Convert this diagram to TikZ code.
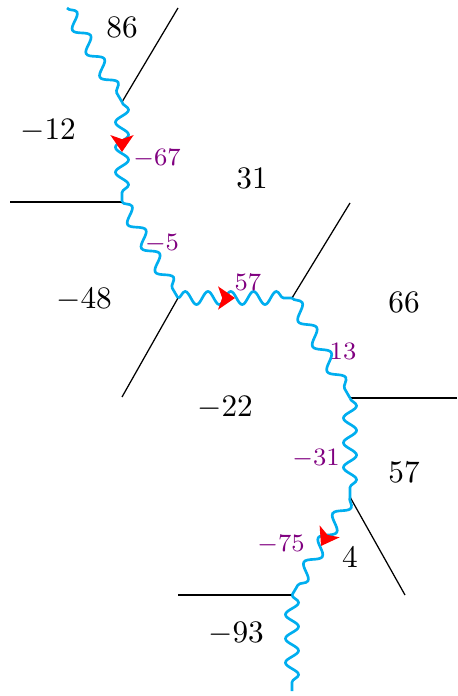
\documentclass[tikz,border=0pt]{standalone}
\usetikzlibrary{decorations.pathmorphing,decorations.markings,arrows.meta}
\definecolor{phot}{RGB}{0,174,239}
\definecolor{lab}{RGB}{128,0,128}
\begin{document}
\begin{tikzpicture}[x=0.32pt,y=-0.32pt,
  photon/.style={draw=phot, line width=0.85pt, decorate,
    decoration={snake, amplitude=2.1pt, segment length=#1}},
  wall/.style={draw=black, line width=0.4pt},
  midarrow/.style={decorate, decoration={markings,
    mark=at position 0.5 with {\arrow{Stealth[length=5.4pt,width=7.4pt,inset=1.3pt,red]}}}},
  region/.style={font=\normalsize, inner sep=0pt},
  charge/.style={text=lab, font=\footnotesize, inner sep=0pt}]
\useasboundingbox (0,0) rectangle (457,696);
% vertices of the photon line
\coordinate (S) at (67,8);
\coordinate (A) at (122,102);
\coordinate (B) at (122,202);
\coordinate (C) at (178,298);
\coordinate (D) at (292,298);
\coordinate (E) at (350,398);
\coordinate (F) at (350,497);
\coordinate (G) at (292,595);
\coordinate (T) at (292,691);
% free ends of the walls
\coordinate (a) at (178,8);
\coordinate (b) at (10,202);
\coordinate (c) at (122,397);
\coordinate (d) at (350,203);
\coordinate (e) at (457,398);
\coordinate (f) at (405,595);
\coordinate (g) at (178,595);
% walls
\draw[wall] (A) -- (a);
\draw[wall] (B) -- (b);
\draw[wall] (C) -- (c);
\draw[wall] (D) -- (d);
\draw[wall] (E) -- (e);
\draw[wall] (F) -- (f);
\draw[wall] (G) -- (g);
% photon line
\draw[photon=8.7pt] (S) -- (A);
\draw[photon=8.0pt] (A) -- (B);
\draw[photon=8.8pt] (B) -- (C);
\draw[photon=7.3pt] (C) -- (D);
\draw[photon=9.25pt] (D) -- (E);
\draw[photon=7.9pt] (E) -- (F);
\draw[photon=9.05pt] (F) -- (G);
\draw[photon=7.7pt] (G) -- (T);
% arrows
\path[midarrow] (A) -- (B);
\path[midarrow] (C) -- (D);
\path[midarrow] (F) -- (G);
% region labels
\node[region] (r1) at (122,27) {$86$};
\node[region] (r2) at (48,131) {$-12$};
\node[region] (r3) at (252,178) {$31$};
\node[region] (r4) at (84,300) {$-48$};
\node[region] (r5) at (404,302) {$66$};
\node[region] (r6) at (225,408) {$-22$};
\node[region] (r7) at (404,472) {$57$};
\node[region] (r8) at (350,557) {$4$};
\node[region] (r9) at (236,634) {$-93$};
% edge labels
\node[charge] (q1) at (157,159) {$-67$};
\node[charge] (q2) at (162,244) {$-5$};
\node[charge] (q3) at (248,282) {$57$};
\node[charge] (q4) at (343,351) {$13$};
\node[charge] (q5) at (316,459) {$-31$};
\node[charge] (q6) at (281,545) {$-75$};
\end{tikzpicture}
\end{document}
